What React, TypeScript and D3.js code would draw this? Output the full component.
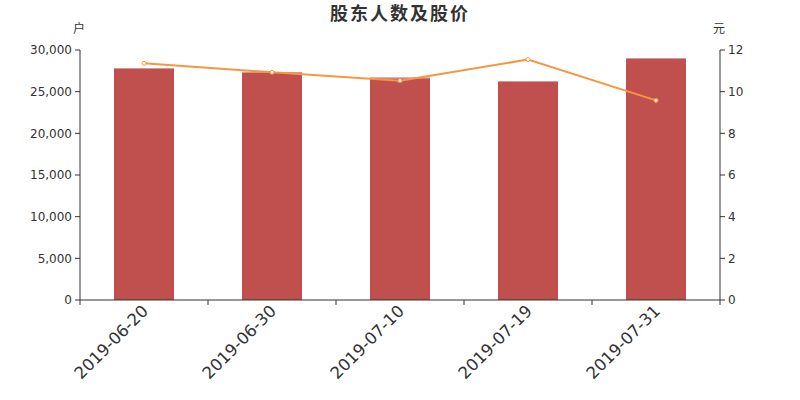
import React from "react";
import * as d3 from "d3";

const categories = ["2019-06-20", "2019-06-30", "2019-07-10", "2019-07-19", "2019-07-31"];
const holders = [27840, 27360, 26680, 26280, 29040];
const prices = [11.36, 10.93, 10.53, 11.54, 9.58];
const leftTicks = [0, 5000, 10000, 15000, 20000, 25000, 30000];
const rightTicks = [0, 2, 4, 6, 8, 10, 12];

const W = 800, H = 400;
const L = 80, R = 720, T = 50, B = 300;
const FONT = "'DejaVu Sans', sans-serif";

export default function App() {
  const x = d3.scaleBand<string>().domain(categories).range([L, R]);
  const yL = d3.scaleLinear().domain([0, 30000]).range([B, T]);
  const yR = d3.scaleLinear().domain([0, 12]).range([B, T]);
  const bw = 60;
  const fmt = d3.format(",");
  const line = d3
    .line<number>()
    .x((_, i) => (x(categories[i]) as number) + x.bandwidth() / 2)
    .y((d) => yR(d));
  const tickXs = categories.map((c) => x(c) as number).concat([R]);
  return (
    <svg width={W} height={H} style={{ position: "absolute", left: 0, top: 0 }} fontFamily={FONT}>
      <rect width={W} height={H} fill="#fff" />
      <text x={400} y={20} textAnchor="middle" fontSize={18} fontWeight="bold" fill="#333"
        fontFamily="'Noto Sans CJK SC', sans-serif" letterSpacing={2}>股东人数及股价</text>
      <text x={79} y={33} textAnchor="middle" fontSize={12} fill="#333" fontFamily="'Noto Sans CJK SC', sans-serif">户</text>
      <text x={719} y={33} textAnchor="middle" fontSize={12} fill="#333" fontFamily="'Noto Sans CJK SC', sans-serif">元</text>
      {categories.map((c, i) => {
        const cx = (x(c) as number) + x.bandwidth() / 2;
        return (
          <g key={c}>
            <rect x={cx - bw / 2} y={yL(holders[i])} width={bw} height={B - yL(holders[i])} fill="#C0504D" />
            <rect x={cx - bw / 2} y={yL(holders[i])} width={bw} height={1} fill="#D99694" />
          </g>
        );
      })}
      {/* left axis */}
      <line x1={L} x2={L} y1={T} y2={B} stroke="#333" />
      {leftTicks.map((t) => (
        <g key={t}>
          <line x1={L - 5} x2={L} y1={yL(t)} y2={yL(t)} stroke="#333" />
          <text x={L - 8} y={yL(t)} dy="0.35em" textAnchor="end" fontSize={12} fill="#333">{fmt(t)}</text>
        </g>
      ))}
      {/* right axis */}
      <line x1={R} x2={R} y1={T} y2={B} stroke="#333" />
      {rightTicks.map((t) => (
        <g key={t}>
          <line x1={R} x2={R + 5} y1={yR(t)} y2={yR(t)} stroke="#333" />
          <text x={R + 8} y={yR(t)} dy="0.35em" textAnchor="start" fontSize={12} fill="#333">{t}</text>
        </g>
      ))}
      {/* x axis */}
      <line x1={L} x2={R} y1={B} y2={B} stroke="#333" />
      {tickXs.map((tx, i) => (
        <line key={i} x1={tx} x2={tx} y1={B} y2={B + 5} stroke="#333" />
      ))}
      {categories.map((c) => {
        const cx = (x(c) as number) + x.bandwidth() / 2;
        return (
          <text key={c} transform={`translate(${cx - 3},${B + 4}) rotate(-45)`} textAnchor="end"
            dy="0.7em" fontSize={16.5} fill="#333">{c}</text>
        );
      })}
      <path d={line(prices) || ""} fill="none" stroke="#F7963F" strokeWidth={2} />
      {prices.map((p, i) => (
        <circle key={i} cx={(x(categories[i]) as number) + x.bandwidth() / 2} cy={yR(p)} r={2}
          fill="#fff" stroke="#F7963F" strokeWidth={1} />
      ))}
    </svg>
  );
}
